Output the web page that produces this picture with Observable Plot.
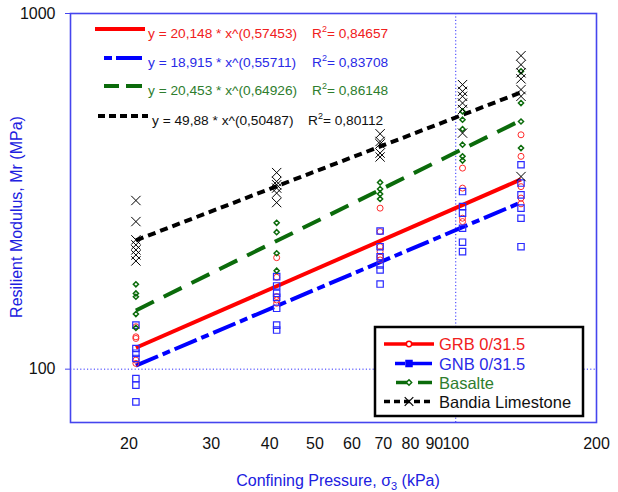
<!DOCTYPE html>
<html><head><meta charset="utf-8">
<script src="https://cdn.jsdelivr.net/npm/d3@7"></script>
<script src="https://cdn.jsdelivr.net/npm/@observablehq/plot@0.6"></script>
<style>html,body{margin:0;padding:0;background:#fff}svg{display:block}</style>
</head><body><div id="chart"></div>
<script>
// ---- data ----
const pressures = [20.7, 41.4, 68.9, 103.4, 137.9];
const xTicks = [20, 30, 40, 50, 60, 70, 80, 90, 100, 200];
const yTicks = [100, 1000];
const seriesNames = ["GRB 0/31.5", "GNB 0/31.5", "Basalte", "Bandia Limestone"];

// measured resilient modulus (MPa) per confining pressure column
const grbValues = [
  [131.6, 123.3, 122, 106, 103.8],
  [205.8, 181.3, 160, 156.5, 153.2],
  [283.6, 243.6, 221, 214, 207, 202.8],
  [367.5, 322.9, 265.7, 260],
  [456, 396.6, 326, 302.7, 291.6]
];
const gnbValues = [
  [133, 114.3, 110.9, 107.2, 94.1, 90.2, 80.9],
  [182, 171.4, 163.4, 159.2, 148.3, 133, 128.8],
  [244.6, 221, 207, 196.3, 190, 173.5],
  [315.8, 286.6, 274.6, 249, 227.5, 214],
  [375.6, 333.6, 309, 283.6, 265.7, 221]
];
const basalteValues = [
  [173.2, 163.3, 159.8, 142.9, 130.7],
  [258, 242.7, 211.8, 189.2],
  [335, 321, 311, 301],
  [530.6, 502.7, 473, 427.6, 396.6, 386],
  [688, 560, 497, 418.6]
];
const bandiaValues = [
  [298, 260, 231, 223.6, 216.4, 209.5, 201.5],
  [357, 337, 330, 323, 312.6, 294],
  [459, 436.7, 430, 405, 395],
  [631, 604, 585, 560, 537, 461],
  [761, 718, 681, 655, 611, 585, 348]
];

// power-law fits printed on the chart: y = a * x^b
const fitA = [20.148, 18.915, 20.453, 49.88];
const fitB = [0.57453, 0.55711, 0.64926, 0.50487];
const fitR2 = [0.84657, 0.83708, 0.86148, 0.80112];

// ---- styles ----
const FONT = "'Liberation Sans', Arial, sans-serif";
const colors = ["#ff0000", "#0000ff", "#0b6b0b", "#000000"];
const textColors = ["#f02020", "#2a2ae6", "#2e7d2e", "#111111"];
const lineDash = [null, "24,5,8,5", "20,11", "8,5"];
const axisBlue = "#4545ee";

const rows = vals => vals.flatMap((col, i) => col.map(v => ({p: pressures[i], v})));
const fitRows = k => [pressures[0], pressures[pressures.length - 1]].map(p => ({p, v: fitA[k] * Math.pow(p, fitB[k])}));

const fitMarks = [0, 1, 2, 3].map(k => Plot.line(fitRows(k), {
  x: "p", y: "v", stroke: colors[k], strokeWidth: 4,
  strokeDasharray: lineDash[k] || undefined, strokeLinecap: "butt"
}));

const svg = Plot.plot({
  width: 618, height: 492,
  marginLeft: 70, marginRight: 22, marginTop: 13, marginBottom: 70,
  style: {fontFamily: FONT, background: "#fff", overflow: "visible"},
  x: {type: "log", domain: [15, 200], axis: null},
  y: {type: "log", domain: [70.8, 1000]},
  marks: [
    Plot.ruleY([100], {stroke: "#3030ff", strokeWidth: 1, strokeDasharray: "1.2,2.2"}),
    Plot.ruleX([100], {stroke: "#3030ff", strokeWidth: 1, strokeDasharray: "1.2,2.2"}),
    ...fitMarks,
    Plot.dot(rows(grbValues), {x: "p", y: "v", symbol: "circle", r: 3, stroke: "#ff2a2a", fill: "none", strokeWidth: 1}),
    Plot.dot(rows(gnbValues), {x: "p", y: "v", symbol: "square", r: 3.6, stroke: "#2a2aff", fill: "none", strokeWidth: 1.2}),
    Plot.dot(rows(basalteValues), {x: "p", y: "v", symbol: "diamond2", r: 2.3, stroke: "#0b6b0b", fill: "none", strokeWidth: 1.5}),
    Plot.dot(rows(bandiaValues), {x: "p", y: "v", symbol: "times", r: 4.3, stroke: "#000", strokeWidth: 1}),
    Plot.frame({stroke: axisBlue, strokeWidth: 1.6}),
    Plot.axisY(yTicks, {anchor: "left", tickSize: 5, tickPadding: 10, fontSize: 16, stroke: axisBlue, fill: "#111", tickFormat: d => String(d), label: null}),
    Plot.text(xTicks, {x: d => d, frameAnchor: "bottom", dy: 26, fontSize: 16, fill: "#111", text: d => String(d)})
  ]
});

const root = d3.select(svg);
const g = root.append("g").attr("font-family", FONT).attr("text-anchor", "start");

// axis titles
g.append("text")
  .attr("transform", "translate(22,217) rotate(-90)")
  .attr("text-anchor", "middle").attr("font-size", 16).attr("fill", "#2020e0")
  .text("Resilient Modulus, Mr (MPa)");
const xt = g.append("text").attr("x", 338).attr("y", 486)
  .attr("text-anchor", "middle").attr("font-size", 16).attr("fill", "#2020e0");
xt.append("tspan").text("Confining Pressure, σ");
xt.append("tspan").attr("dy", 4).attr("font-size", 11).text("3");
xt.append("tspan").attr("dy", -4).text(" (kPa)");

// equation block
const fmt = n => String(n).replace(".", ",");
const eqLineY = [29, 58, 86, 116];
const eqSeg = [[[95, 145]], [[104, 112], [116, 142]], [[104, 119], [126, 142]], [[98, 148]]];
const eqTextX = [148, 148, 148, 152];
const r2X = [312, 312, 312, 308];
for (let k = 0; k < 4; k++) {
  eqSeg[k].forEach(([a, b]) => {
    g.append("line").attr("x1", a).attr("x2", b).attr("y1", eqLineY[k]).attr("y2", eqLineY[k])
      .attr("stroke", colors[k]).attr("stroke-width", 4)
      .attr("stroke-dasharray", k === 3 ? "7,4" : null);
  });
  g.append("text").attr("x", eqTextX[k]).attr("y", eqLineY[k] + 9)
    .attr("font-size", 13.7).attr("fill", textColors[k])
    .text(`y = ${fmt(fitA[k])} * x^(${fmt(fitB[k])})`);
  const rt = g.append("text").attr("x", r2X[k]).attr("y", eqLineY[k] + 9)
    .attr("font-size", 13.7).attr("fill", textColors[k]);
  rt.append("tspan").text("R");
  rt.append("tspan").attr("dy", -6).attr("font-size", 9).text("2");
  rt.append("tspan").attr("dy", 6).text("= " + fmt(fitR2[k]));
}

// legend
g.append("rect").attr("x", 375).attr("y", 327).attr("width", 208).attr("height", 89)
  .attr("fill", "#fff").attr("stroke", "#000").attr("stroke-width", 2.5);
const legY = [344, 363.5, 382.5, 401.5];
const legSeg = [[[384, 434]], [[395, 405], [412, 432]], [[396, 409], [418, 432]], [[384, 434]]];
for (let k = 0; k < 4; k++) {
  legSeg[k].forEach(([a, b]) => {
    g.append("line").attr("x1", a).attr("x2", b).attr("y1", legY[k]).attr("y2", legY[k])
      .attr("stroke", colors[k]).attr("stroke-width", 3.5)
      .attr("stroke-dasharray", k === 3 ? "6,4" : null);
  });
  const sym = [d3.symbolCircle, d3.symbolSquare, d3.symbolDiamond2, d3.symbolTimes][k];
  const size = [22, 36, 18, 50][k];
  g.append("path").attr("transform", `translate(409,${legY[k]})`)
    .attr("d", d3.symbol(sym, size)())
    .attr("fill", k === 1 ? colors[1] : (k === 3 ? "none" : "#fff"))
    .attr("stroke", colors[k]).attr("stroke-width", k === 3 ? 1.2 : 1.5);
  g.append("text").attr("x", 439).attr("y", legY[k] + 6)
    .attr("font-size", 16.5).attr("fill", textColors[k]).text(seriesNames[k]);
}

document.getElementById("chart").appendChild(svg);
</script>
</body></html>
